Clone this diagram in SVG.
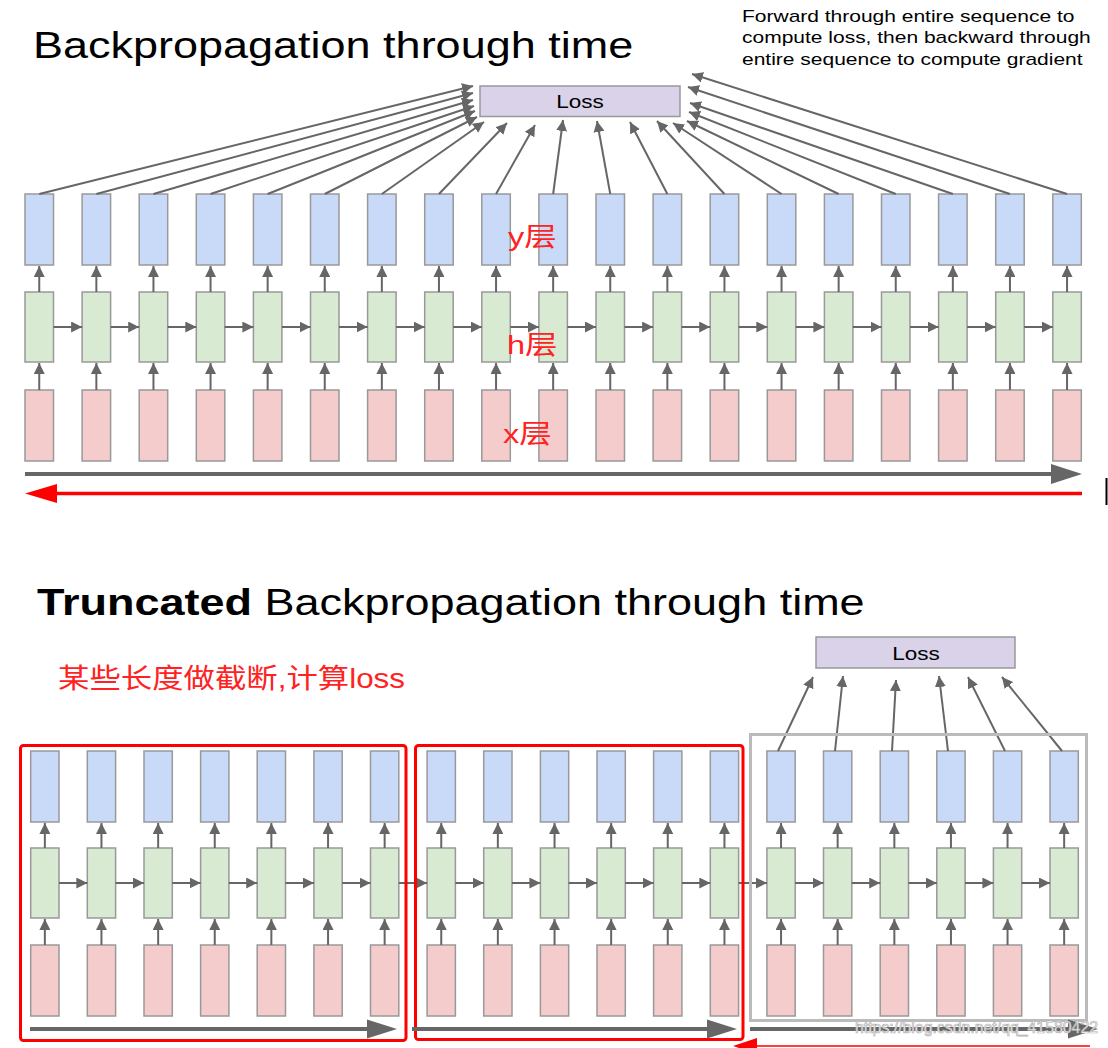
<svg xmlns="http://www.w3.org/2000/svg" width="1108" height="1048" viewBox="0 0 1108 1048">
<defs>
<marker id="ah" viewBox="0 0 10 10" refX="10" refY="5" markerWidth="11" markerHeight="11" markerUnits="userSpaceOnUse" orient="auto"><path d="M0,0 L10,5 L0,10 z" fill="#666"/></marker>
<g id="tcol"><rect class="y" x="0" y="194" width="28.5" height="71"/><rect class="h" x="0" y="292" width="28.5" height="70"/><rect class="x" x="0" y="390" width="28.5" height="71"/></g>
<g id="bcol"><rect class="y" x="0" y="751" width="28.3" height="71"/><rect class="h" x="0" y="848" width="28.3" height="70"/><rect class="x" x="0" y="945" width="28.3" height="71"/></g>
</defs>
<style>
.y{fill:#c9daf8;stroke:#999;stroke-width:1.5}
.h{fill:#d9ead3;stroke:#999;stroke-width:1.5}
.x{fill:#f4cccc;stroke:#999;stroke-width:1.5}
.loss{fill:#d9d2e9;stroke:#999;stroke-width:1.5}
.c line{stroke:#666;stroke-width:2;marker-end:url(#ah)}
.sans{font-family:"Liberation Sans",Arial,sans-serif}
.cjk{font-family:"Liberation Sans","Noto Sans CJK SC",sans-serif;fill:#ff2222}
</style>
<rect width="1108" height="1048" fill="#fff"/>

<!-- texts -->
<text class="sans" transform="translate(33,58) scale(1.25,1)" font-size="36" fill="#000">Backpropagation through time</text>
<g class="sans" font-size="16.8" fill="#000">
<text transform="translate(742,21.7) scale(1.25,1)">Forward through entire sequence to</text>
<text transform="translate(742,43.3) scale(1.25,1)">compute loss, then backward through</text>
<text transform="translate(742,65) scale(1.25,1)">entire sequence to compute gradient</text>
</g>
<text class="sans" transform="translate(37,615) scale(1.25,1)" font-size="36" fill="#000"><tspan font-weight="bold">Truncated</tspan> Backpropagation through time</text>
<text class="cjk" x="58" y="688" font-size="27.5" textLength="347" lengthAdjust="spacingAndGlyphs">某些长度做截断,计算loss</text>

<!-- top loss -->
<g id="loss-top"><rect class="loss" x="480" y="86" width="200" height="30.5"/><text class="sans" transform="translate(580,108) scale(1.25,1)" font-size="18" text-anchor="middle" fill="#000">Loss</text></g>

<!-- top columns -->
<g id="top-columns">
<use id="t0" href="#tcol" x="25"/>
<use id="t1" href="#tcol" x="82.1"/>
<use id="t2" href="#tcol" x="139.2"/>
<use id="t3" href="#tcol" x="196.3"/>
<use id="t4" href="#tcol" x="253.4"/>
<use id="t5" href="#tcol" x="310.5"/>
<use id="t6" href="#tcol" x="367.6"/>
<use id="t7" href="#tcol" x="424.7"/>
<use id="t8" href="#tcol" x="481.8"/>
<use id="t9" href="#tcol" x="538.9"/>
<use id="t10" href="#tcol" x="596"/>
<use id="t11" href="#tcol" x="653.1"/>
<use id="t12" href="#tcol" x="710.2"/>
<use id="t13" href="#tcol" x="767.3"/>
<use id="t14" href="#tcol" x="824.4"/>
<use id="t15" href="#tcol" x="881.5"/>
<use id="t16" href="#tcol" x="938.6"/>
<use id="t17" href="#tcol" x="995.7"/>
<use id="t18" href="#tcol" x="1052.8"/>
</g>

<!-- top connectors -->
<g id="top-connectors" class="c">
<line x1="39.25" y1="194" x2="473" y2="86"/>
<line x1="96.35" y1="194" x2="473" y2="93"/>
<line x1="153.45" y1="194" x2="473" y2="100"/>
<line x1="210.55" y1="194" x2="474" y2="106"/>
<line x1="267.65" y1="194" x2="475" y2="111"/>
<line x1="324.75" y1="194" x2="477" y2="117"/>
<line x1="381.85" y1="194" x2="484" y2="122"/>
<line x1="438.95" y1="194" x2="507" y2="123"/>
<line x1="496.05" y1="194" x2="535" y2="125"/>
<line x1="553.15" y1="194" x2="563" y2="120"/>
<line x1="610.25" y1="194" x2="597" y2="121"/>
<line x1="667.35" y1="194" x2="630" y2="122"/>
<line x1="724.45" y1="194" x2="657" y2="121"/>
<line x1="781.55" y1="194" x2="673" y2="123"/>
<line x1="838.65" y1="194" x2="687" y2="121"/>
<line x1="895.75" y1="194" x2="689" y2="112"/>
<line x1="952.85" y1="194" x2="690" y2="103"/>
<line x1="1009.95" y1="194" x2="688" y2="87"/>
<line x1="1067.05" y1="194" x2="692" y2="74"/>
<line x1="39.25" y1="292" x2="39.25" y2="266"/><line x1="39.25" y1="390" x2="39.25" y2="363"/>
<line x1="96.35" y1="292" x2="96.35" y2="266"/><line x1="96.35" y1="390" x2="96.35" y2="363"/>
<line x1="153.45" y1="292" x2="153.45" y2="266"/><line x1="153.45" y1="390" x2="153.45" y2="363"/>
<line x1="210.55" y1="292" x2="210.55" y2="266"/><line x1="210.55" y1="390" x2="210.55" y2="363"/>
<line x1="267.65" y1="292" x2="267.65" y2="266"/><line x1="267.65" y1="390" x2="267.65" y2="363"/>
<line x1="324.75" y1="292" x2="324.75" y2="266"/><line x1="324.75" y1="390" x2="324.75" y2="363"/>
<line x1="381.85" y1="292" x2="381.85" y2="266"/><line x1="381.85" y1="390" x2="381.85" y2="363"/>
<line x1="438.95" y1="292" x2="438.95" y2="266"/><line x1="438.95" y1="390" x2="438.95" y2="363"/>
<line x1="496.05" y1="292" x2="496.05" y2="266"/><line x1="496.05" y1="390" x2="496.05" y2="363"/>
<line x1="553.15" y1="292" x2="553.15" y2="266"/><line x1="553.15" y1="390" x2="553.15" y2="363"/>
<line x1="610.25" y1="292" x2="610.25" y2="266"/><line x1="610.25" y1="390" x2="610.25" y2="363"/>
<line x1="667.35" y1="292" x2="667.35" y2="266"/><line x1="667.35" y1="390" x2="667.35" y2="363"/>
<line x1="724.45" y1="292" x2="724.45" y2="266"/><line x1="724.45" y1="390" x2="724.45" y2="363"/>
<line x1="781.55" y1="292" x2="781.55" y2="266"/><line x1="781.55" y1="390" x2="781.55" y2="363"/>
<line x1="838.65" y1="292" x2="838.65" y2="266"/><line x1="838.65" y1="390" x2="838.65" y2="363"/>
<line x1="895.75" y1="292" x2="895.75" y2="266"/><line x1="895.75" y1="390" x2="895.75" y2="363"/>
<line x1="952.85" y1="292" x2="952.85" y2="266"/><line x1="952.85" y1="390" x2="952.85" y2="363"/>
<line x1="1009.95" y1="292" x2="1009.95" y2="266"/><line x1="1009.95" y1="390" x2="1009.95" y2="363"/>
<line x1="1067.05" y1="292" x2="1067.05" y2="266"/><line x1="1067.05" y1="390" x2="1067.05" y2="363"/>
<line x1="53.5" y1="327" x2="82.1" y2="327"/>
<line x1="110.6" y1="327" x2="139.2" y2="327"/>
<line x1="167.7" y1="327" x2="196.3" y2="327"/>
<line x1="224.8" y1="327" x2="253.4" y2="327"/>
<line x1="281.9" y1="327" x2="310.5" y2="327"/>
<line x1="339" y1="327" x2="367.6" y2="327"/>
<line x1="396.1" y1="327" x2="424.7" y2="327"/>
<line x1="453.2" y1="327" x2="481.8" y2="327"/>
<line x1="510.3" y1="327" x2="538.9" y2="327"/>
<line x1="567.4" y1="327" x2="596" y2="327"/>
<line x1="624.5" y1="327" x2="653.1" y2="327"/>
<line x1="681.6" y1="327" x2="710.2" y2="327"/>
<line x1="738.7" y1="327" x2="767.3" y2="327"/>
<line x1="795.8" y1="327" x2="824.4" y2="327"/>
<line x1="852.9" y1="327" x2="881.5" y2="327"/>
<line x1="910" y1="327" x2="938.6" y2="327"/>
<line x1="967.1" y1="327" x2="995.7" y2="327"/>
<line x1="1024.2" y1="327" x2="1052.8" y2="327"/>
</g>

<!-- layer labels -->
<g class="cjk" font-size="26">
<text transform="translate(508,246) scale(1.25,1)">y层</text>
<text transform="translate(507,354) scale(1.25,1)">h层</text>
<text transform="translate(503,443) scale(1.25,1)">x层</text>
</g>

<!-- top time arrows -->
<g id="top-time-arrows">
<line x1="25" y1="474" x2="1053" y2="474" stroke="#666" stroke-width="4"/>
<polygon points="1051,464 1082,474 1051,484" fill="#666"/>
<line x1="56" y1="493.5" x2="1082" y2="493.5" stroke="#ff0000" stroke-width="3.5"/>
<polygon points="25,493.5 57,484 57,503" fill="#ff0000"/>
<line x1="1106.5" y1="478" x2="1106.5" y2="505" stroke="#000" stroke-width="2"/>
</g>

<!-- bottom loss -->
<g id="loss-bottom"><rect class="loss" x="816" y="637" width="199" height="31"/><text class="sans" transform="translate(916,660) scale(1.25,1)" font-size="18" text-anchor="middle" fill="#000">Loss</text></g>

<!-- bottom columns -->
<g id="bottom-columns">
<use id="b0" href="#bcol" x="30.7"/>
<use id="b1" href="#bcol" x="87.3"/>
<use id="b2" href="#bcol" x="144"/>
<use id="b3" href="#bcol" x="200.6"/>
<use id="b4" href="#bcol" x="257.2"/>
<use id="b5" href="#bcol" x="313.9"/>
<use id="b6" href="#bcol" x="370.5"/>
<use id="b7" href="#bcol" x="427.1"/>
<use id="b8" href="#bcol" x="483.7"/>
<use id="b9" href="#bcol" x="540.4"/>
<use id="b10" href="#bcol" x="597"/>
<use id="b11" href="#bcol" x="653.6"/>
<use id="b12" href="#bcol" x="710.3"/>
<use id="b13" href="#bcol" x="766.9"/>
<use id="b14" href="#bcol" x="823.5"/>
<use id="b15" href="#bcol" x="880.2"/>
<use id="b16" href="#bcol" x="936.8"/>
<use id="b17" href="#bcol" x="993.4"/>
<use id="b18" href="#bcol" x="1050"/>
</g>

<!-- bottom connectors -->
<g id="bottom-connectors" class="c">
<line x1="778" y1="751" x2="813" y2="677"/>
<line x1="835" y1="751" x2="843" y2="676"/>
<line x1="892" y1="751" x2="896" y2="680"/>
<line x1="948" y1="751" x2="939" y2="676"/>
<line x1="1005" y1="751" x2="968" y2="677"/>
<line x1="1062" y1="751" x2="1002" y2="677"/>
<line x1="44.85" y1="848" x2="44.85" y2="823"/><line x1="44.85" y1="945" x2="44.85" y2="919"/>
<line x1="101.45" y1="848" x2="101.45" y2="823"/><line x1="101.45" y1="945" x2="101.45" y2="919"/>
<line x1="158.15" y1="848" x2="158.15" y2="823"/><line x1="158.15" y1="945" x2="158.15" y2="919"/>
<line x1="214.75" y1="848" x2="214.75" y2="823"/><line x1="214.75" y1="945" x2="214.75" y2="919"/>
<line x1="271.35" y1="848" x2="271.35" y2="823"/><line x1="271.35" y1="945" x2="271.35" y2="919"/>
<line x1="328.05" y1="848" x2="328.05" y2="823"/><line x1="328.05" y1="945" x2="328.05" y2="919"/>
<line x1="384.65" y1="848" x2="384.65" y2="823"/><line x1="384.65" y1="945" x2="384.65" y2="919"/>
<line x1="441.25" y1="848" x2="441.25" y2="823"/><line x1="441.25" y1="945" x2="441.25" y2="919"/>
<line x1="497.85" y1="848" x2="497.85" y2="823"/><line x1="497.85" y1="945" x2="497.85" y2="919"/>
<line x1="554.55" y1="848" x2="554.55" y2="823"/><line x1="554.55" y1="945" x2="554.55" y2="919"/>
<line x1="611.15" y1="848" x2="611.15" y2="823"/><line x1="611.15" y1="945" x2="611.15" y2="919"/>
<line x1="667.75" y1="848" x2="667.75" y2="823"/><line x1="667.75" y1="945" x2="667.75" y2="919"/>
<line x1="724.45" y1="848" x2="724.45" y2="823"/><line x1="724.45" y1="945" x2="724.45" y2="919"/>
<line x1="781.05" y1="848" x2="781.05" y2="823"/><line x1="781.05" y1="945" x2="781.05" y2="919"/>
<line x1="837.65" y1="848" x2="837.65" y2="823"/><line x1="837.65" y1="945" x2="837.65" y2="919"/>
<line x1="894.35" y1="848" x2="894.35" y2="823"/><line x1="894.35" y1="945" x2="894.35" y2="919"/>
<line x1="950.95" y1="848" x2="950.95" y2="823"/><line x1="950.95" y1="945" x2="950.95" y2="919"/>
<line x1="1007.55" y1="848" x2="1007.55" y2="823"/><line x1="1007.55" y1="945" x2="1007.55" y2="919"/>
<line x1="1064.15" y1="848" x2="1064.15" y2="823"/><line x1="1064.15" y1="945" x2="1064.15" y2="919"/>
<line x1="59" y1="883" x2="87.3" y2="883"/>
<line x1="115.6" y1="883" x2="144" y2="883"/>
<line x1="172.3" y1="883" x2="200.6" y2="883"/>
<line x1="228.9" y1="883" x2="257.2" y2="883"/>
<line x1="285.5" y1="883" x2="313.9" y2="883"/>
<line x1="342.2" y1="883" x2="370.5" y2="883"/>
<line x1="398.8" y1="883" x2="427.1" y2="883"/>
<line x1="455.4" y1="883" x2="483.7" y2="883"/>
<line x1="512" y1="883" x2="540.4" y2="883"/>
<line x1="568.7" y1="883" x2="597" y2="883"/>
<line x1="625.3" y1="883" x2="653.6" y2="883"/>
<line x1="681.9" y1="883" x2="710.3" y2="883"/>
<line x1="738.6" y1="883" x2="766.9" y2="883"/>
<line x1="795.2" y1="883" x2="823.5" y2="883"/>
<line x1="851.8" y1="883" x2="880.2" y2="883"/>
<line x1="908.5" y1="883" x2="936.8" y2="883"/>
<line x1="965.1" y1="883" x2="993.4" y2="883"/>
<line x1="1021.7" y1="883" x2="1050" y2="883"/>
</g>

<!-- truncation frames -->
<g id="frames" fill="none">
<rect x="20.5" y="745.5" width="385.5" height="295" rx="3" stroke="#ff0000" stroke-width="3"/>
<rect x="415.5" y="745.5" width="327.5" height="294" rx="3" stroke="#ff0000" stroke-width="3"/>
<rect x="750.5" y="734.5" width="336" height="286" stroke="#bbbbbb" stroke-width="3"/>
</g>

<!-- bottom time arrows -->
<g id="bottom-time-arrows">
<line x1="30" y1="1029" x2="368" y2="1029" stroke="#666" stroke-width="4"/>
<polygon points="367,1019.5 397,1029 367,1038.5" fill="#666"/>
<line x1="412" y1="1029" x2="708" y2="1029" stroke="#666" stroke-width="4"/>
<polygon points="707,1019.5 737,1029 707,1038.5" fill="#666"/>
<line x1="750" y1="1029" x2="1070" y2="1029" stroke="#666" stroke-width="4"/>
<polygon points="1068,1019.5 1098,1029 1068,1038.5" fill="#666"/>
<line x1="756" y1="1046" x2="1090" y2="1046" stroke="#ff0000" stroke-width="1.5"/>
<polygon points="733,1046 757,1038 757,1054" fill="#ff0000"/>
</g>

<text class="sans" x="855" y="1033" font-size="16" textLength="243" lengthAdjust="spacingAndGlyphs" fill="#ffffff" stroke="#b0b0b0" stroke-width="0.7">https://blog.csdn.net/qq_41580422</text>
</svg>
